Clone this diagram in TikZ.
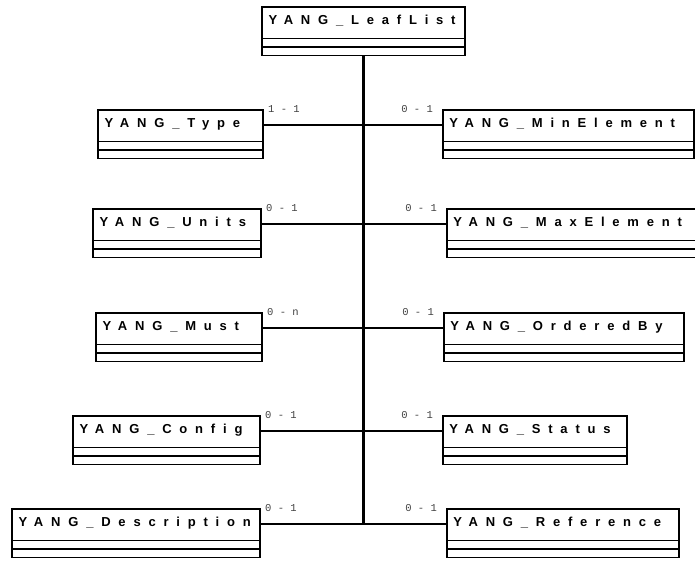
\documentclass[tikz,border=0pt]{standalone}
\usepackage{fontspec}
\usetikzlibrary{calc, shapes.multipart}
\newfontfamily\classfont{Liberation Sans}[LetterSpace=60]
\newfontfamily\multfont{Liberation Mono}
\newcommand{\umlclass}[1]{\rule[-13pt]{0pt}{30pt}#1\nodepart{second}\nodepart{third}}

\tikzset{
    classbox/.style={rectangle split, rectangle split parts=3, draw, line width=1.6pt,
        inner xsep=6.5pt, inner ysep=0pt, minimum width=#1,
        rectangle split part align={left},
        rectangle split empty part height=7pt, rectangle split empty part depth=0pt,
        font=\fontsize{13}{13}\classfont\bfseries},
    mult/.style={font=\fontsize{10.5}{10.5}\multfont, text=black!75, inner xsep=4pt, inner ysep=0pt},
    link/.style={line width=1.6pt},
    spine/.style={line width=2.6pt}
}

\begin{document}
\begin{tikzpicture}[x=1pt, y=-1pt]
    \useasboundingbox (0,0) rectangle (695,562);

    \node[classbox=203pt, anchor=north] (leaflist) at (363.5,6) {\umlclass{YANG\_LeafList}};

    \node[classbox=165pt, anchor=north east] (type) at (264,109) {\umlclass{YANG\_Type}};
    \node[classbox=168pt, anchor=north east] (units) at (262,208) {\umlclass{YANG\_Units}};
    \node[classbox=166pt, anchor=north east] (must) at (263,312) {\umlclass{YANG\_Must}};
    \node[classbox=187pt, anchor=north east] (config) at (261,415) {\umlclass{YANG\_Config}};
    \node[classbox=248pt, anchor=north east] (descr) at (261,508) {\umlclass{YANG\_Description}};

    \node[classbox=251pt, anchor=north west] (minel) at (442,109) {\umlclass{YANG\_MinElement}};
    \node[classbox=255pt, anchor=north west] (maxel) at (446,208) {\umlclass{YANG\_MaxElement}};
    \node[classbox=240pt, anchor=north west] (orderedby) at (443,312) {\umlclass{YANG\_OrderedBy}};
    \node[classbox=184pt, anchor=north west] (status) at (442,415) {\umlclass{YANG\_Status}};
    \node[classbox=232pt, anchor=north west] (ref) at (446,508) {\umlclass{YANG\_Reference}};

    % connectors, one row at a time
    \foreach \l/\r in {type/minel, units/maxel, must/orderedby, config/status, descr/ref} {
        \coordinate (\l-c) at ($(\l.north east)!.5!(\l.text split east)$);
        \coordinate (\r-c) at ($(\r.north west)!.5!(\r.text split west)$);
        \draw[link] (\l-c) -- (\r-c);
    }
    \draw[spine] (leaflist.south) -- (leaflist.south |- descr-c);

    \node[mult, anchor=west] (type-m) at (type.north east) {1 - 1};
    \node[mult, anchor=west] (units-m) at (units.north east) {0 - 1};
    \node[mult, anchor=west] (must-m) at (must.north east) {0 - n};
    \node[mult, anchor=west] (config-m) at (config.north east) {0 - 1};
    \node[mult, anchor=west] (descr-m) at (descr.north east) {0 - 1};

    \node[mult, anchor=east, xshift=-5pt] (minel-m) at (minel.north west) {0 - 1};
    \node[mult, anchor=east, xshift=-5pt] (maxel-m) at (maxel.north west) {0 - 1};
    \node[mult, anchor=east, xshift=-5pt] (orderedby-m) at (orderedby.north west) {0 - 1};
    \node[mult, anchor=east, xshift=-5pt] (status-m) at (status.north west) {0 - 1};
    \node[mult, anchor=east, xshift=-5pt] (ref-m) at (ref.north west) {0 - 1};
\end{tikzpicture}
\end{document}
